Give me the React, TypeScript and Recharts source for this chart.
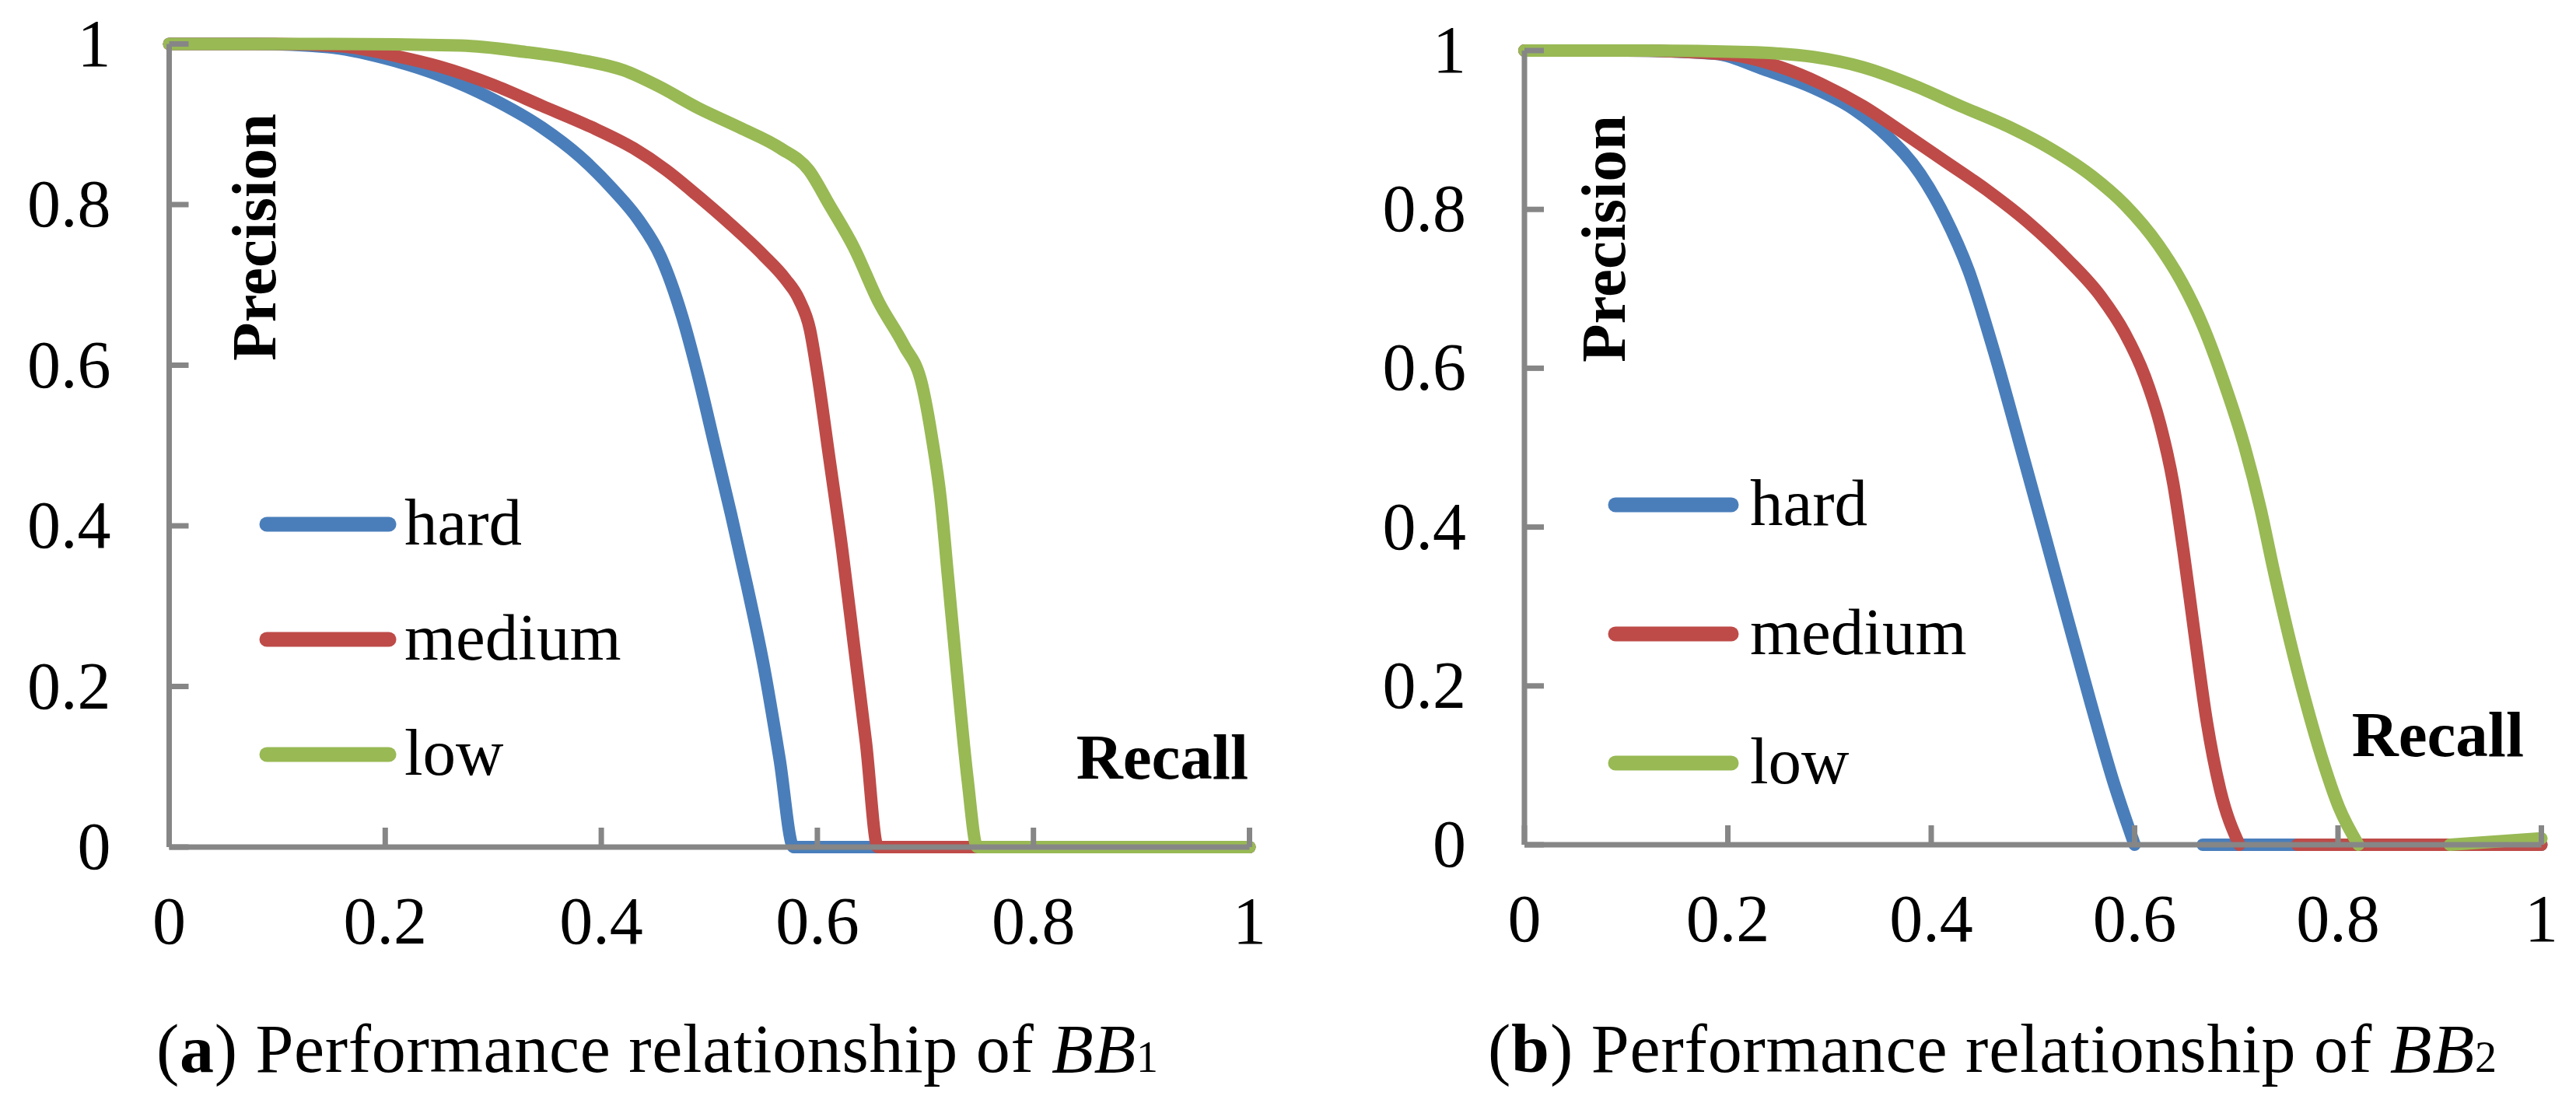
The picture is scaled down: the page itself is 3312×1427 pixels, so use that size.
import React from 'react';
import { LineChart, Line, XAxis, YAxis, Customized } from 'recharts';

const FONT = '"Liberation Serif", "Times New Roman", serif';
const AXIS = '#868686';

const axisTicks = [0, 0.2, 0.4, 0.6, 0.8, 1];
const tickLabels = ['0', '0.2', '0.4', '0.6', '0.8', '1'];

const seriesNames = ['hard', 'medium', 'low'];
const seriesColors = ['#4A7EBB', '#BE4B48', '#98B954'];

// Panel (a): BB1  — [recall, precision]
const hardA: [number, number | null][] = [
  [0, 1], [0.08, 1], [0.147, 0.996], [0.2, 0.982], [0.25, 0.961], [0.3, 0.931],
  [0.345, 0.896], [0.38, 0.86], [0.41, 0.82], [0.435, 0.78], [0.455, 0.735],
  [0.475, 0.66], [0.49, 0.585], [0.505, 0.5], [0.52, 0.415], [0.535, 0.325],
  [0.55, 0.228], [0.565, 0.11], [0.578, 0], [0.62, 0], [0.8, 0], [1, 0],
];
const mediumA: [number, number | null][] = [
  [0, 1], [0.1, 1], [0.16, 0.997], [0.21, 0.985], [0.25, 0.972], [0.3, 0.949],
  [0.345, 0.923], [0.39, 0.897], [0.43, 0.87], [0.46, 0.843], [0.49, 0.81],
  [0.52, 0.775], [0.55, 0.737], [0.57, 0.708], [0.583, 0.682], [0.593, 0.645],
  [0.6, 0.59], [0.611, 0.485], [0.623, 0.37], [0.634, 0.25], [0.645, 0.13],
  [0.656, 0], [0.7, 0], [0.85, 0], [1, 0],
];
const lowA: [number, number | null][] = [
  [0, 1], [0.15, 1], [0.27, 0.998], [0.33, 0.99], [0.376, 0.981], [0.421, 0.967],
  [0.452, 0.948], [0.49, 0.92], [0.528, 0.896], [0.566, 0.87], [0.592, 0.843],
  [0.611, 0.8], [0.634, 0.746], [0.657, 0.678], [0.68, 0.625], [0.697, 0.575],
  [0.706, 0.51], [0.714, 0.435], [0.721, 0.335], [0.729, 0.22], [0.739, 0.085],
  [0.748, 0], [0.8, 0], [0.9, 0], [1, 0],
];

// Panel (b): BB2 — [recall, precision]; null marks a visible gap in the curve
const hardB: [number, number | null][] = [
  [0, 1], [0.1, 1], [0.187, 0.996], [0.236, 0.976], [0.284, 0.953], [0.324, 0.926],
  [0.357, 0.892], [0.389, 0.845], [0.413, 0.792], [0.437, 0.722], [0.462, 0.62],
  [0.486, 0.51], [0.51, 0.398], [0.534, 0.285], [0.557, 0.178], [0.579, 0.08],
  [0.6, 0], [0.633, null], [0.667, 0], [0.8, 0], [1, 0],
];
const mediumB: [number, number | null][] = [
  [0, 1], [0.1, 1], [0.2, 0.995], [0.252, 0.979], [0.292, 0.958], [0.333, 0.93],
  [0.373, 0.896], [0.413, 0.861], [0.454, 0.825], [0.494, 0.785], [0.534, 0.737],
  [0.567, 0.69], [0.59, 0.645], [0.61, 0.59], [0.625, 0.53], [0.638, 0.455],
  [0.648, 0.37], [0.659, 0.265], [0.671, 0.155], [0.684, 0.07], [0.703, 0],
  [0.73, null], [0.76, 0], [0.9, 0], [1, 0],
];
const lowB: [number, number | null][] = [
  [0, 1], [0.12, 1], [0.22, 0.998], [0.284, 0.992], [0.333, 0.979], [0.381, 0.957],
  [0.429, 0.93], [0.478, 0.903], [0.518, 0.876], [0.559, 0.841], [0.591, 0.805],
  [0.623, 0.756], [0.647, 0.707], [0.667, 0.654], [0.688, 0.582], [0.708, 0.502],
  [0.724, 0.422], [0.736, 0.35], [0.752, 0.261], [0.768, 0.181], [0.784, 0.11],
  [0.801, 0.047], [0.82, 0], [0.86, null], [0.91, 0], [1, 0.008],
];

const toPoints = (arr: [number, number | null][]) => arr.map(([r, p]) => ({ r, p }));

const XTick = (props: any) => {
  const { x, y, payload } = props;
  const i = axisTicks.indexOf(payload.value);
  return (
    <g>
      <line x1={x} x2={x} y1={y} y2={y - 25} stroke={AXIS} strokeWidth={7} />
      <text x={x} y={y + 124} textAnchor="middle" fontFamily={FONT} fontSize={86} fill="#000">
        {i >= 0 ? tickLabels[i] : String(payload.value)}
      </text>
    </g>
  );
};

const YTick = (props: any) => {
  const { x, y, payload } = props;
  const i = axisTicks.indexOf(payload.value);
  return (
    <g>
      <line x1={x} x2={x + 25} y1={y} y2={y} stroke={AXIS} strokeWidth={7} />
      <text x={x - 75} y={y + 28} textAnchor="end" fontFamily={FONT} fontSize={86} fill="#000">
        {i >= 0 ? tickLabels[i] : String(payload.value)}
      </text>
    </g>
  );
};

type OverlayCfg = {
  precision: [number, number];
  recall: [number, number];
  legendX: [number, number, number];
  legendRows: number[];
  caption: [number, number, number];
  letter: string;
  sub: string;
};

const makeOverlay = (c: OverlayCfg) => () => (
  <g>
    <text
      transform={`translate(${c.precision[0]},${c.precision[1]}) rotate(-90)`}
      textAnchor="middle" fontFamily={FONT} fontWeight="bold" fontSize={81} fill="#000"
    >Precision</text>
    <text x={c.recall[0]} y={c.recall[1]} textAnchor="end" fontFamily={FONT} fontWeight="bold" fontSize={83} fill="#000">Recall</text>
    {seriesNames.map((n, i) => (
      <g key={n}>
        <line x1={c.legendX[0]} x2={c.legendX[1]} y1={c.legendRows[i]} y2={c.legendRows[i]}
          stroke={seriesColors[i]} strokeWidth={19} strokeLinecap="round" />
        <text x={c.legendX[2]} y={c.legendRows[i] + 26} fontFamily={FONT} fontSize={85} fill="#000">{n}</text>
      </g>
    ))}
    <text x={c.caption[0]} y={c.caption[1]} fontFamily={FONT} fontSize={88} fill="#000"
      textLength={c.caption[2]} lengthAdjust="spacing">
      (<tspan fontWeight="bold">{c.letter}</tspan>) Performance relationship of <tspan fontStyle="italic">BB</tspan><tspan fontSize={56}>{c.sub}</tspan>
    </text>
  </g>
);

const overlayA = makeOverlay({
  precision: [354, 305], recall: [1605, 1001], legendX: [343, 500, 520],
  legendRows: [674, 822, 970], caption: [201, 1378, 1288], letter: 'a', sub: '1',
});
const overlayB = makeOverlay({
  precision: [433, 307], recall: [1589, 972], legendX: [421, 570, 594],
  legendRows: [649, 815, 981], caption: [257, 1378, 1297], letter: 'b', sub: '2',
});

type PanelProps = {
  series: [number, number | null][][];
  margin: { top: number; right: number; bottom: number; left: number };
  overlay: () => React.ReactElement;
};

const Panel = ({ series, margin, overlay }: PanelProps) => (
  <LineChart width={1656} height={1427} margin={margin}>
    <XAxis dataKey="r" type="number" domain={[0, 1]} ticks={axisTicks} interval={0}
      tickSize={0} tickMargin={0} height={100} tickLine={false}
      axisLine={{ stroke: AXIS, strokeWidth: 7 }} tick={<XTick />} />
    <YAxis type="number" domain={[0, 1]} ticks={axisTicks} interval={0}
      tickSize={0} tickMargin={0} width={100} tickLine={false}
      axisLine={{ stroke: AXIS, strokeWidth: 7 }} tick={<YTick />} />
    {series.map((s, i) => (
      <Line key={seriesNames[i]} name={seriesNames[i]} data={toPoints(s)} dataKey="p"
        type="monotoneX" stroke={seriesColors[i]} strokeWidth={16} dot={false} activeDot={false}
        strokeLinejoin="round" strokeLinecap="round" isAnimationActive={false} connectNulls={false} />
    ))}
    <Customized component={overlay} />
  </LineChart>
);

export default function App() {
  return (
    <div style={{ position: 'absolute', left: 0, top: 0, width: 3312, height: 1427, background: '#fff' }}>
      <div style={{ position: 'absolute', left: 0, top: 0 }}>
        <Panel series={[hardA, mediumA, lowA]}
          margin={{ top: 56.5, right: 49.5, bottom: 238, left: 117.5 }} overlay={overlayA} />
      </div>
      <div style={{ position: 'absolute', left: 1656, top: 0 }}>
        <Panel series={[hardB, mediumB, lowB]}
          margin={{ top: 65, right: 44.5, bottom: 241, left: 204 }} overlay={overlayB} />
      </div>
    </div>
  );
}
